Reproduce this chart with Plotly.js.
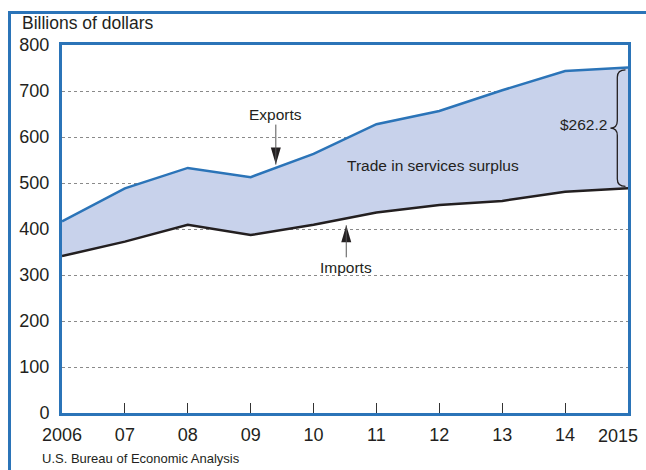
<!DOCTYPE html>
<html>
<head>
<meta charset="utf-8">
<script src="https://cdn.plot.ly/plotly-3.0.1.min.js"></script>
<style>
  html, body { margin: 0; padding: 0; background: #ffffff; }
  #wrap { position: relative; width: 646px; height: 470px; overflow: hidden; }
  #frame { position: absolute; left: 8px; top: 11px; width: 700px; height: 500px; border: 3px solid #2b74b8; box-sizing: border-box; }
  #chart { position: absolute; left: 0; top: 0; width: 646px; height: 470px; }
</style>
</head>
<body>
<div id="wrap">
  <div id="frame"></div>
  <div id="chart"></div>
</div>
<script>
// Data (billions of dollars), trade in services
var years = [2006, 2007, 2008, 2009, 2010, 2011, 2012, 2013, 2014, 2015];
var tickLabels = ['2006', '07', '08', '09', '10', '11', '12', '13', '14', '2015'];
var exportsVals = [416.7, 488.4, 532.8, 512.7, 563.3, 627.8, 656.4, 701.5, 743.3, 750.9];
var importsVals = [341.1, 372.6, 409.1, 386.8, 409.3, 435.8, 452.0, 461.1, 480.8, 488.7];
var surplusLabel = '$262.2';

var blue = '#2b74b8';
var dark = '#231f20';
var fillCol = '#c8d2eb';
var fontFam = '"Liberation Sans", Arial, Helvetica, sans-serif';

var traces = [
  {
    x: years, y: importsVals, type: 'scatter', mode: 'lines',
    line: { color: dark, width: 2.5 }, hoverinfo: 'skip', showlegend: false
  },
  {
    x: years, y: exportsVals, type: 'scatter', mode: 'lines',
    fill: 'tonexty', fillcolor: fillCol,
    line: { color: blue, width: 2.5 }, hoverinfo: 'skip', showlegend: false
  }
];

// brace between last export and import values
var last = years.length - 1;
var bTop = exportsVals[last] - 5, bBot = importsVals[last] + 4, bMid = (bTop + bBot) / 2;
var xe = years[last] - 0.04, xs = years[last] - 0.17, xt = years[last] - 0.28;
var cv = 16;
var bracePath = 'M' + xe + ',' + bTop +
  ' Q' + xs + ',' + bTop + ' ' + xs + ',' + (bTop - cv) +
  ' L' + xs + ',' + (bMid + cv) +
  ' Q' + xs + ',' + bMid + ' ' + xt + ',' + bMid +
  ' Q' + xs + ',' + bMid + ' ' + xs + ',' + (bMid - cv) +
  ' L' + xs + ',' + (bBot + cv) +
  ' Q' + xs + ',' + bBot + ' ' + xe + ',' + bBot;

var expTipX = 2009.4, expTipY = 540;
var impTipX = 2010.52, impTipY = 408;

// last tick label is drawn right-aligned so it stays inside the picture
var shownTicks = tickLabels.slice(0, last).concat(['']);

var layout = {
  width: 646, height: 470,
  margin: { l: 62, r: 18, t: 45, b: 57 },
  paper_bgcolor: 'rgba(0,0,0,0)',
  plot_bgcolor: 'rgba(0,0,0,0)',
  font: { family: fontFam, color: dark, size: 18 },
  xaxis: {
    range: [2006, 2015], tickvals: years, ticktext: shownTicks,
    showgrid: false, zeroline: false,
    showline: true, linecolor: blue, linewidth: 3, mirror: true,
    ticks: 'inside', ticklen: 10, tickwidth: 1, tickcolor: '#333',
    ticklabelstandoff: 3,
    tickfont: { size: 18, family: fontFam, color: dark },
    fixedrange: true
  },
  yaxis: {
    range: [0, 800], dtick: 100, tick0: 0,
    showgrid: true, gridcolor: '#8a8a8a', gridwidth: 1, griddash: 'dot',
    zeroline: false,
    showline: true, linecolor: blue, linewidth: 3, mirror: true,
    ticks: '', ticklabelstandoff: 6,
    tickfont: { size: 18, family: fontFam, color: dark },
    fixedrange: true
  },
  shapes: [
    { type: 'path', xref: 'x', yref: 'y', path: bracePath,
      line: { color: dark, width: 1.3 }, fillcolor: 'rgba(0,0,0,0)' },
    { type: 'path', xref: 'x', yref: 'y', xsizemode: 'pixel', ysizemode: 'pixel',
      xanchor: expTipX, yanchor: expTipY, path: 'M0,0 L-5,17 L5,17 Z',
      fillcolor: dark, line: { width: 0 } },
    { type: 'path', xref: 'x', yref: 'y', xsizemode: 'pixel', ysizemode: 'pixel',
      xanchor: impTipX, yanchor: impTipY, path: 'M0,0 L-5,-17 L5,-17 Z',
      fillcolor: dark, line: { width: 0 } }
  ],
  annotations: [
    { xref: 'x', yref: 'paper', x: years[last], y: -0.03, xanchor: 'right', yanchor: 'top', xshift: 12,
      text: tickLabels[last], showarrow: false, font: { size: 18, family: fontFam, color: dark } },
    { xref: 'paper', yref: 'paper', x: -0.074, y: 1.027, xanchor: 'left', yanchor: 'bottom',
      text: 'Billions of dollars', showarrow: false, font: { size: 17.5, family: fontFam, color: dark } },
    { xref: 'paper', yref: 'paper', x: -0.038, y: -0.097, xanchor: 'left', yanchor: 'top',
      text: 'U.S. Bureau of Economic Analysis', showarrow: false, font: { size: 13, family: fontFam, color: dark } },
    { xref: 'x', yref: 'y', x: expTipX, y: expTipY, text: 'Exports', showarrow: true,
      arrowhead: 0, arrowwidth: 1, arrowcolor: '#555', ax: 0, ay: -50,
      font: { size: 15.5, family: fontFam, color: dark } },
    { xref: 'x', yref: 'y', x: impTipX, y: impTipY, text: 'Imports', showarrow: true,
      arrowhead: 0, arrowwidth: 1, arrowcolor: '#555', ax: 0, ay: 42,
      font: { size: 15.5, family: fontFam, color: dark } },
    { xref: 'x', yref: 'y', x: 2011.9, y: 538, text: 'Trade in services surplus', showarrow: false,
      font: { size: 15.5, family: fontFam, color: dark } },
    { xref: 'x', yref: 'y', x: xt - 0.03, y: bMid + 8, xanchor: 'right', text: surplusLabel, showarrow: false,
      font: { size: 15.5, family: fontFam, color: dark } }
  ]
};

Plotly.newPlot('chart', traces, layout, { displayModeBar: false, staticPlot: true });
</script>
</body>
</html>
